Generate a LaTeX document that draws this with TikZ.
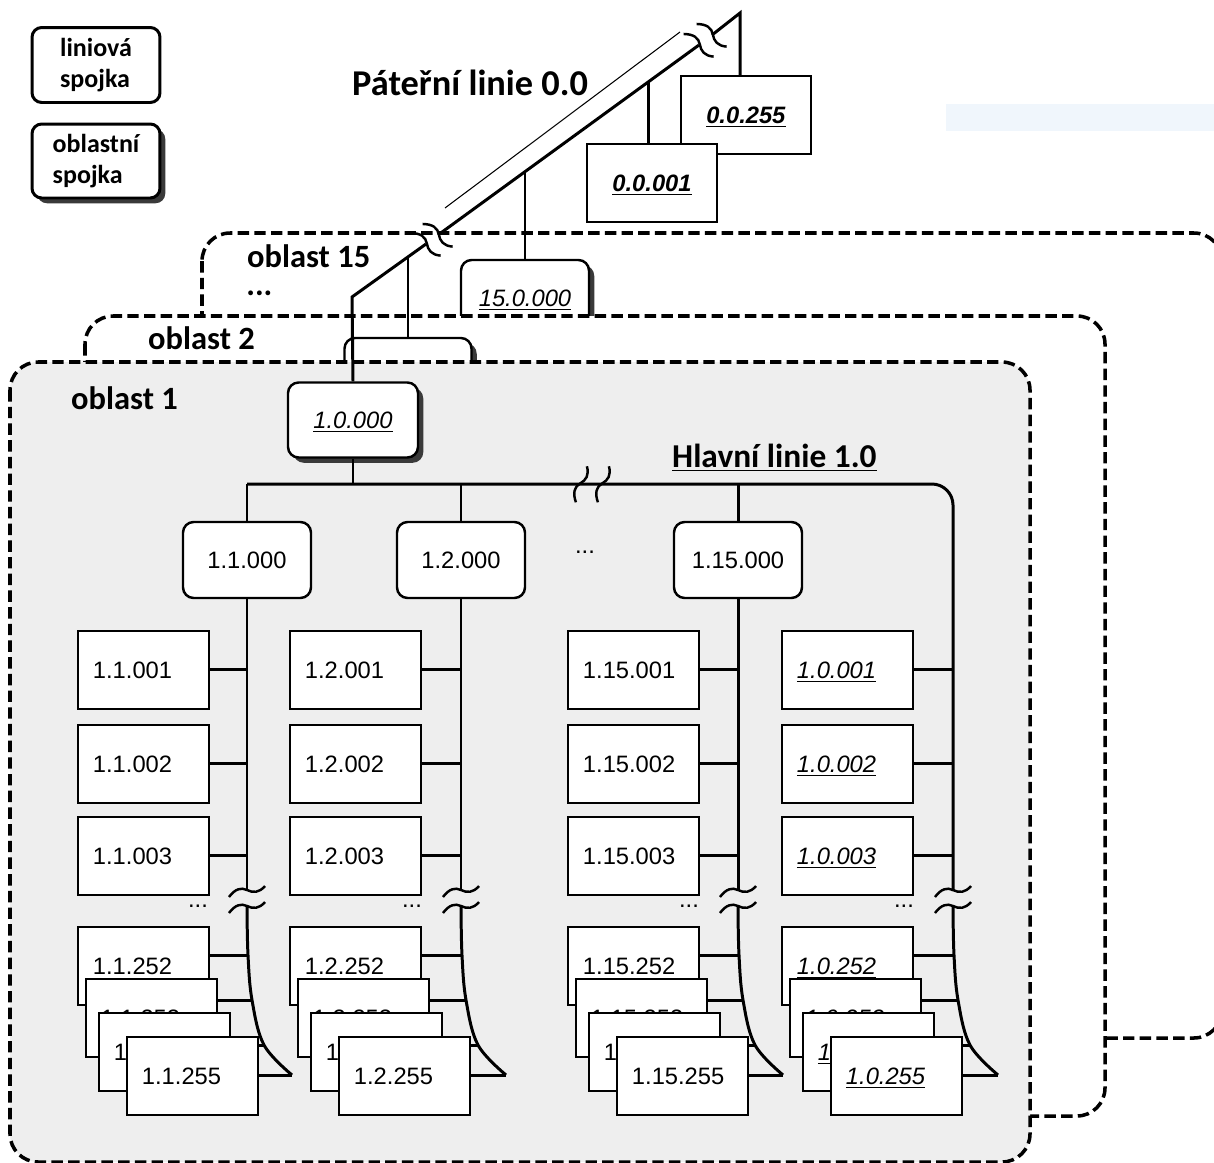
\documentclass[tikz,border=0pt]{standalone}
\usepackage{fontspec}
\setmainfont{Carlito}
\newfontfamily\numfont{Liberation Sans}
\usetikzlibrary{shadows}
\definecolor{areagray}{RGB}{238,238,238}
\definecolor{shadowgray}{RGB}{58,58,58}
\definecolor{scanblue}{RGB}{240,246,252}
\newcommand\plainnum[1]{#1}
\newcommand\ulnum[1]{\underline{\textit{#1}}}
\newcommand\bulnum[1]{\underline{\textbf{\textit{#1}}}}

\begin{document}
\begin{tikzpicture}[x=0.02cm,y=-0.02cm,
  bus line/.style={line width=1.7pt},
  area line/.style={line width=2pt,dash pattern=on 6.5pt off 3pt,rounded corners=16pt},
  area label/.style={anchor=west,font=\fontsize{18.5}{22}\selectfont\bfseries},
  link node/.style={draw,fill=white,line width=1.7pt,rounded corners=5.5pt,minimum width=2.56cm,
    minimum height=1.5cm,align=left,font=\fontsize{14.8}{18}\selectfont\bfseries},
  router node/.style={draw,fill=white,line width=1.4pt,rounded corners=6pt,minimum width=2.56cm,
    minimum height=1.52cm,text depth=0pt,font=\numfont\fontsize{13.5}{16}\selectfont},
  shadow node/.style={router node,drop shadow={shadow xshift=3pt,shadow yshift=-3pt,opacity=1,fill=shadowgray}},
  backbone node/.style={draw,fill=white,line width=1.1pt,minimum width=2.6cm,minimum height=1.56cm,
    text depth=0pt,font=\numfont\fontsize{13.5}{16}\selectfont},
  host node/.style={draw,fill=white,line width=1.1pt,anchor=north west,minimum height=1.56cm,
    text width=2.02cm,inner xsep=0.3cm,text depth=0pt,align=left,font=\numfont\fontsize{13.5}{16}\selectfont},
  dots node/.style={font=\numfont\fontsize{13.5}{16}\selectfont},
  wave/.pic={\draw[line width=1.4pt] (-18,6) .. controls (-12,-2) and (-6,-4) .. (0,-1)
    .. controls (6,2) and (12,2) .. (18,-5);}]

  \useasboundingbox (0,0) rectangle (1214,1163);
  \clip (0,0) rectangle (1214,1163);
  \fill[scanblue] (946,104) rectangle (1214,131);

  % legend
  \node[link node] (lk) at (96,65) {liniová\\spojka};
  \node[link node,minimum height=1.48cm,
    drop shadow={shadow xshift=3pt,shadow yshift=-3pt,opacity=1,fill=shadowgray}] (ok) at (96,161) {oblastní\\spojka};

  % backbone routers
  \node[backbone node] (n255) at (746,115) {\bulnum{0.0.255}};
  \node[backbone node] (n001) at (652,183) {\bulnum{0.0.001}};

  % areas
  \draw[area line,fill=white] (202,233) rectangle (1222,1038);
  \node[area label,inner sep=1pt] (o15) at (245,256) {oblast 15};
  \node[area label,inner sep=0pt] (o15dots) at (246,293) {...};
  \node[shadow node] (r15) at (525,298) {\ulnum{15.0.000}};
  \draw[area line,fill=white] (85,316) rectangle (1105,1116);
  \node[area label] (o2) at (142,338) {oblast 2};
  \node[shadow node,minimum width=2.54cm] (r2) at (408,376) {};
  \draw[area line,fill=areagray] (10,362) rectangle (1030,1162);
  \node[area label] (o1) at (65,398) {oblast 1};
  \node[shadow node,minimum width=2.6cm,minimum height=1.5cm] (r10) at (353,420) {\ulnum{1.0.000}};

  % backbone 0.0
  \coordinate (bb0) at (352,297);
  \coordinate (bb1) at (426,244);
  \coordinate (bb2) at (438,235);
  \coordinate (bb3) at (699,45);
  \coordinate (bb4) at (712,35);
  \coordinate (bbtop) at (740,13);
  \coordinate (j2) at (408,257);
  \coordinate (j15) at (525,172);
  \coordinate (j01) at (648,82);
  \coordinate (p1) at (445,208);
  \coordinate (p2) at (680,32);
  \draw[bus line] (r10.north) -- (bb0) -- (bb1);
  \draw[bus line] (bb2) -- (bb3);
  \draw[bus line] (bb4) -- (bbtop) -- (bbtop |- n255.north);
  \draw[line width=0.6pt] (p1) -- (p2);
  \draw[bus line] (j2) -- (r2.north);
  \draw[bus line] (j15) -- (r15.north);
  \draw[bus line] (j01) -- (j01 |- n001.north);
  \pic[rotate=-54] at (bb1) {wave};
  \pic[rotate=-54] at (bb2) {wave};
  \pic[rotate=-54] at (bb3) {wave};
  \pic[rotate=-54] at (bb4) {wave};
  \node[anchor=west,font=\fontsize{20.7}{24}\selectfont\bfseries] (pl) at (346,83) {Páteřní linie 0.0};

  % lines of area 1
  \foreach \c/\V/\L/\p/\f in {1/247/77/1.1/\plainnum,2/461/289/1.2/\plainnum,
      3/738/567/1.15/\plainnum,4/953/781/1.0/\ulnum}{
    \coordinate (t\c) at (\V,891);
    \coordinate (u\c) at (\V,907);
    \coordinate (s\c a) at ({\V+1},955);
    \coordinate (s\c b) at ({\V+5},1000);
    \coordinate (s\c c) at ({\V+17},1045);
    \coordinate (s\c d) at ({\V+45},1075);
    \node[host node] (h\c n1) at (\L,630) {\f{\p.001}};
    \node[host node] (h\c n2) at (\L,724) {\f{\p.002}};
    \node[host node] (h\c n3) at (\L,816) {\f{\p.003}};
    \draw[bus line] (h\c n1.east) -- (h\c n1.east -| t\c);
    \draw[bus line] (h\c n2.east) -- (h\c n2.east -| t\c);
    \draw[bus line] (h\c n3.east) -- (h\c n3.east -| t\c);
    \draw[bus line] (s\c a -| {\L+131},0) -- (s\c a);
    \draw[bus line] (s\c b -| {\L+139},0) -- (s\c b);
    \draw[bus line] (s\c c -| {\L+152},0) -- (s\c c);
    \draw[bus line] (s\c d -| {\L+180},0) -- (s\c d);
    \draw[bus line] plot[smooth,tension=0.6] coordinates {(u\c) (s\c a) (s\c b) (s\c c) (s\c d)};
    \pic at (t\c) {wave};
    \pic at (u\c) {wave};
    \node[dots node] (e\c) at ({\V-49},906) {...};
    \node[host node] (h\c n252) at (\L,926) {\f{\p.252}};
    \node[host node] (h\c n253) at ({\L+8},978) {\f{\p.253}};
    \node[host node] (h\c n254) at ({\L+21},1012) {\f{\p.254}};
    \node[host node] (h\c n255) at ({\L+49},1036) {\f{\p.255}};
  }

  \node[router node] (r11) at (247,560) {1.1.000};
  \node[router node] (r12) at (461,560) {1.2.000};
  \node[router node] (r115) at (738,560) {1.15.000};
  \node[dots node] (rdots) at (585,552) {...};

  \coordinate (hlL) at (247,484);
  \coordinate (hlR) at (953,484);
  \draw[bus line] (r11.north) -- (hlL);
  \draw[bus line,rounded corners=12pt] (hlL) -- (hlR) -- (t4);
  \draw[bus line] (r10.south) -- (r10.south |- hlL);
  \draw[bus line] (r12.north) -- (r12.north |- hlL);
  \draw[bus line] (r115.north) -- (r115.north |- hlL);
  \draw[bus line] (r11.south) -- (t1);
  \draw[bus line] (r12.south) -- (t2);
  \draw[bus line] (r115.south) -- (t3);
  \pic[rotate=56] at (581,484) {wave};
  \pic[rotate=56] at (603,484) {wave};
  \node[anchor=west,font=\fontsize{19}{22}\selectfont\bfseries] (hl) at (666,458) {\underline{Hlavní linie 1.0}};

\end{tikzpicture}
\end{document}
